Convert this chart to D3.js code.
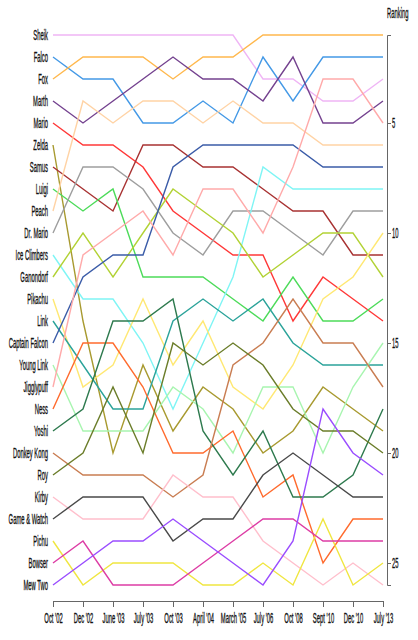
<!DOCTYPE html>
<html><head><meta charset="utf-8">
<script src="https://cdn.jsdelivr.net/npm/d3@7"></script>
<style>
body{margin:0;background:#fff}
svg{display:block}
text{font-family:"Liberation Sans",Arial,sans-serif;fill:#111}
</style>
</head><body>
<svg id="chart" width="418" height="640"></svg>
<script>
// Tier list dates (x categories)
const tierLists = ["Oct '02","Dec '02","June '03","July '03","Oct '03","April '04","March '05","July '06","Oct '08","Sept '10","Dec '10","July '13"];
// Characters, ordered by first ranking
const characters = ["Sheik","Falco","Fox","Marth","Mario","Zelda","Samus","Luigi","Peach","Dr. Mario","Ice Climbers","Ganondorf","Pikachu","Link","Captain Falcon","Young Link","Jigglypuff","Ness","Yoshi","Donkey Kong","Roy","Kirby","Game & Watch","Pichu","Bowser","Mew Two"];
// Ranking of each character in each tier list (same order as characters)
const rankings = [
  [1,1,1,1,1,1,1,3,3,4,4,3],          // Sheik
  [2,3,3,5,5,4,5,2,4,2,2,2],          // Falco
  [3,2,2,2,3,2,2,1,1,1,1,1],          // Fox
  [4,5,4,3,2,3,3,4,2,5,5,4],          // Marth
  [5,6,6,7,9,10,11,11,14,12,13,14],   // Mario
  [6,14,20,16,19,17,18,20,19,17,18,19], // Zelda
  [7,8,9,6,6,7,7,8,9,9,11,11],        // Samus
  [8,9,8,12,12,12,13,14,12,14,14,13], // Luigi
  [9,4,5,4,4,5,4,5,5,6,6,6],          // Peach
  [10,7,7,8,10,11,9,9,10,11,9,9],     // Dr. Mario
  [11,13,13,15,18,15,12,7,8,8,8,8],   // Ice Climbers
  [12,10,12,10,8,9,10,12,11,10,10,12],// Ganondorf
  [13,17,16,13,16,14,17,18,16,13,12,10], // Pikachu
  [14,16,18,18,14,13,14,13,15,16,16,16], // Link
  [15,12,11,11,7,6,6,6,6,7,7,7],      // Captain Falcon
  [16,19,19,19,17,18,20,17,17,20,17,15], // Young Link
  [17,11,10,9,11,8,8,10,7,3,3,5],     // Jigglypuff
  [18,15,15,17,20,20,19,22,21,25,23,23], // Ness
  [19,18,14,14,13,19,21,19,22,22,21,18], // Yoshi
  [20,21,21,21,22,21,16,15,13,15,15,17], // Donkey Kong
  [21,20,17,20,15,16,15,16,18,19,19,20], // Roy
  [22,23,23,23,21,22,22,24,25,26,25,26], // Kirby
  [23,22,22,22,24,23,23,21,20,21,22,22], // Game & Watch
  [24,26,25,25,25,26,26,25,26,23,26,25], // Pichu
  [25,24,26,26,26,25,24,23,23,24,24,24], // Bowser
  [26,25,24,24,23,24,25,26,24,18,20,21]  // Mew Two
];
const rankTicks = [5,10,15,20,25];
const palette = ["#efb5f5","#4499e6","#ffb84d","#74428f","#ff3838","#a89a30","#a83232","#4ddb5a","#ffd3a5","#9e9e9e",
  "#7ff5f5","#b2d235","#ffe873","#2ba39a","#3b5ca8","#a8f5b0","#ffaaaa","#ff6b2e","#2e7a4e","#c97d52",
  "#6b7d2a","#ffbfcc","#4a4a4a","#f0e640","#dd3da5","#9a4dff"];

const SX = 0.39;      // horizontal squeeze of the text
const FS = "15px";
const svg = d3.select("#chart");
const x = d3.scalePoint().domain(tierLists).range([53, 383]);
const y = d3.scaleLinear().domain([1, 26]).range([35, 585]);

const line = d3.line().x((d, i) => x(tierLists[i])).y(d => y(d));

svg.append("g").selectAll("path").data(characters).join("path")
  .attr("d", (c, i) => line(rankings[i]))
  .attr("fill", "none")
  .attr("stroke", (c, i) => palette[i])
  .attr("stroke-width", 1.4)
  .attr("stroke-linejoin", "miter");

// left labels
svg.append("g").selectAll("text").data(characters).join("text")
  .attr("transform", (c, i) => `translate(48,${y(rankings[i][0])}) scale(${SX},1)`)
  .attr("text-anchor", "end")
  .attr("dy", "0.35em")
  .style("font-size", FS)
  .style("stroke", "#111").style("stroke-width", 0.35)
  .text(c => c);

// bottom axis
const gx = svg.append("g").attr("transform", "translate(0,601)")
  .call(d3.axisBottom(x).tickSize(6).tickSizeOuter(6).tickPadding(5));
gx.selectAll("path,line").attr("stroke", "#666");
gx.selectAll("text").style("font-size", FS).style("font-family", '"Liberation Sans",Arial,sans-serif')
  .attr("fill", "#111").style("stroke", "#111").style("stroke-width", 0.35)
  .attr("transform", `scale(${SX},1)`);

// right axis
const gy = svg.append("g").attr("transform", "translate(387,0)")
  .call(d3.axisRight(y).tickValues(rankTicks).tickSize(4).tickSizeOuter(4).tickPadding(1));
gy.selectAll("path,line").attr("stroke", "#666");
gy.selectAll("text").style("font-size", FS).style("font-family", '"Liberation Sans",Arial,sans-serif')
  .attr("fill", "#111").style("stroke", "#111").style("stroke-width", 0.35)
  .attr("x", 5 / SX).attr("transform", `scale(${SX},1)`);

svg.append("text")
  .attr("transform", `translate(387,17.5) scale(${SX},1)`)
  .attr("text-anchor", "start")
  .style("font-size", FS)
  .style("stroke", "#111").style("stroke-width", 0.35)
  .text("Ranking");
</script>
</body></html>
